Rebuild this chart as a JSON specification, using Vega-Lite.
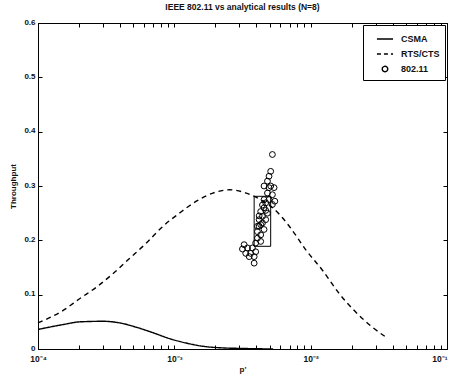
{
  "$schema": "https://vega.github.io/schema/vega-lite/v6.json",
  "autosize": {"type": "none"},
  "padding": {"left": 38, "top": 23, "right": 4, "bottom": 30},
  "width": 409,
  "height": 326,
  "background": "white",
  "title": {"text": "IEEE 802.11 vs analytical results (N=8)", "fontSize": 8.5, "fontWeight": "bold", "font": "Liberation Sans", "color": "#111", "offset": 7},
  "config": {
    "font": "Liberation Sans",
    "view": {"stroke": "black", "strokeWidth": 1},
    "axis": {"grid": false, "domainColor": "black", "tickColor": "black", "tickWidth": 1, "labelColor": "#111", "titleColor": "#111", "labelFontSize": 8, "labelFontWeight": "bold", "titleFontSize": 8, "titleFontWeight": "bold", "tickSize": -4, "labelPadding": 7}
  },
  "datasets": {
    "box": [{"p": 0.00385, "p2": 0.00509, "t": 0.189, "t2": 0.281}],
    "curves": [
      {"series": "CSMA", "p": 0.0001, "t": 0.036},
      {"series": "CSMA", "p": 0.000153, "t": 0.045},
      {"series": "CSMA", "p": 0.000203, "t": 0.050},
      {"series": "CSMA", "p": 0.0003, "t": 0.051},
      {"series": "CSMA", "p": 0.000398, "t": 0.048},
      {"series": "CSMA", "p": 0.000527, "t": 0.040},
      {"series": "CSMA", "p": 0.000697, "t": 0.030},
      {"series": "CSMA", "p": 0.000924, "t": 0.019},
      {"series": "CSMA", "p": 0.00122, "t": 0.011},
      {"series": "CSMA", "p": 0.00162, "t": 0.005},
      {"series": "CSMA", "p": 0.00227, "t": 0.002},
      {"series": "CSMA", "p": 0.0032, "t": 0.001},
      {"series": "CSMA", "p": 0.0053, "t": 0.0},
      {"series": "RTS/CTS", "p": 0.0001, "t": 0.048},
      {"series": "RTS/CTS", "p": 0.000153, "t": 0.071},
      {"series": "RTS/CTS", "p": 0.000203, "t": 0.093},
      {"series": "RTS/CTS", "p": 0.000269, "t": 0.114},
      {"series": "RTS/CTS", "p": 0.000356, "t": 0.139},
      {"series": "RTS/CTS", "p": 0.000471, "t": 0.167},
      {"series": "RTS/CTS", "p": 0.000624, "t": 0.195},
      {"series": "RTS/CTS", "p": 0.000826, "t": 0.226},
      {"series": "RTS/CTS", "p": 0.00109, "t": 0.250},
      {"series": "RTS/CTS", "p": 0.00145, "t": 0.272},
      {"series": "RTS/CTS", "p": 0.00192, "t": 0.287},
      {"series": "RTS/CTS", "p": 0.00254, "t": 0.293},
      {"series": "RTS/CTS", "p": 0.00336, "t": 0.287},
      {"series": "RTS/CTS", "p": 0.0042, "t": 0.276},
      {"series": "RTS/CTS", "p": 0.00526, "t": 0.260},
      {"series": "RTS/CTS", "p": 0.00697, "t": 0.226},
      {"series": "RTS/CTS", "p": 0.00924, "t": 0.182},
      {"series": "RTS/CTS", "p": 0.0122, "t": 0.145},
      {"series": "RTS/CTS", "p": 0.0162, "t": 0.102},
      {"series": "RTS/CTS", "p": 0.0214, "t": 0.068},
      {"series": "RTS/CTS", "p": 0.0284, "t": 0.040},
      {"series": "RTS/CTS", "p": 0.0356, "t": 0.022}
    ],
    "sim": [
      {"series": "802.11", "p": 0.00524, "t": 0.358},
      {"series": "802.11", "p": 0.00509, "t": 0.327},
      {"series": "802.11", "p": 0.00495, "t": 0.318},
      {"series": "802.11", "p": 0.00482, "t": 0.309},
      {"series": "802.11", "p": 0.00455, "t": 0.300},
      {"series": "802.11", "p": 0.00509, "t": 0.300},
      {"series": "802.11", "p": 0.00495, "t": 0.297},
      {"series": "802.11", "p": 0.00539, "t": 0.297},
      {"series": "802.11", "p": 0.00482, "t": 0.287},
      {"series": "802.11", "p": 0.00524, "t": 0.284},
      {"series": "802.11", "p": 0.00495, "t": 0.275},
      {"series": "802.11", "p": 0.00468, "t": 0.269},
      {"series": "802.11", "p": 0.00524, "t": 0.266},
      {"series": "802.11", "p": 0.00546, "t": 0.272},
      {"series": "802.11", "p": 0.00455, "t": 0.260},
      {"series": "802.11", "p": 0.0043, "t": 0.253},
      {"series": "802.11", "p": 0.00482, "t": 0.250},
      {"series": "802.11", "p": 0.00443, "t": 0.244},
      {"series": "802.11", "p": 0.00419, "t": 0.238},
      {"series": "802.11", "p": 0.00468, "t": 0.238},
      {"series": "802.11", "p": 0.00455, "t": 0.275},
      {"series": "802.11", "p": 0.00443, "t": 0.265},
      {"series": "802.11", "p": 0.00468, "t": 0.255},
      {"series": "802.11", "p": 0.00419, "t": 0.245},
      {"series": "802.11", "p": 0.00443, "t": 0.232},
      {"series": "802.11", "p": 0.00455, "t": 0.220},
      {"series": "802.11", "p": 0.0043, "t": 0.229},
      {"series": "802.11", "p": 0.00407, "t": 0.226},
      {"series": "802.11", "p": 0.00419, "t": 0.226},
      {"series": "802.11", "p": 0.00407, "t": 0.216},
      {"series": "802.11", "p": 0.0043, "t": 0.210},
      {"series": "802.11", "p": 0.00407, "t": 0.204},
      {"series": "802.11", "p": 0.0043, "t": 0.198},
      {"series": "802.11", "p": 0.00395, "t": 0.195},
      {"series": "802.11", "p": 0.00325, "t": 0.192},
      {"series": "802.11", "p": 0.00344, "t": 0.186},
      {"series": "802.11", "p": 0.00374, "t": 0.186},
      {"series": "802.11", "p": 0.00316, "t": 0.184},
      {"series": "802.11", "p": 0.00334, "t": 0.176},
      {"series": "802.11", "p": 0.00363, "t": 0.176},
      {"series": "802.11", "p": 0.00395, "t": 0.179},
      {"series": "802.11", "p": 0.00354, "t": 0.170},
      {"series": "802.11", "p": 0.00385, "t": 0.170},
      {"series": "802.11", "p": 0.00385, "t": 0.158}
    ]
  },
  "resolve": {"axis": {"x": "independent", "y": "independent"}},
  "layer": [
    {
      "data": {"name": "box"},
      "mark": {"type": "rect", "fillOpacity": 0, "stroke": "black", "strokeWidth": 1},
      "encoding": {
        "x": {"field": "p", "type": "quantitative", "scale": {"type": "log", "domain": [0.0001, 0.1], "nice": false},
          "axis": {"orient": "top", "labels": false, "title": null, "domain": false, "values": [0.0001,0.0002,0.0003,0.0004,0.0005,0.0006,0.0007,0.0008,0.0009,0.001,0.002,0.003,0.004,0.005,0.006,0.007,0.008,0.009,0.01,0.02,0.03,0.04,0.05,0.06,0.07,0.08,0.09,0.1]}},
        "x2": {"field": "p2"},
        "y": {"field": "t", "type": "quantitative", "scale": {"domain": [0, 0.6], "nice": false},
          "axis": {"orient": "right", "labels": false, "title": null, "domain": false, "values": [0, 0.1, 0.2, 0.3, 0.4, 0.5, 0.6]}},
        "y2": {"field": "t2"}
      }
    },
    {
      "data": {"name": "curves"},
      "mark": {"type": "line", "strokeWidth": 1.4, "interpolate": "monotone"},
      "encoding": {
        "x": {"field": "p", "type": "quantitative",
          "axis": {"orient": "bottom", "title": "p'", "titlePadding": 3, "labelFlush": false, "labelPadding": 9, "labelFontSize": 8.5,
            "labelAlign": {"condition": {"test": "datum.value >= 0.099", "value": "right"}, "value": "center"},
            "values": [0.0001,0.0002,0.0003,0.0004,0.0005,0.0006,0.0007,0.0008,0.0009,0.001,0.002,0.003,0.004,0.005,0.006,0.007,0.008,0.009,0.01,0.02,0.03,0.04,0.05,0.06,0.07,0.08,0.09,0.1],
            "labelExpr": "datum.value == 0.0001 ? '10⁻⁴' : datum.value == 0.001 ? '10⁻³' : datum.value == 0.01 ? '10⁻²' : datum.value == 0.1 ? '10⁻¹' : ''"}},
        "y": {"field": "t", "type": "quantitative",
          "axis": {"orient": "left", "title": "Throughput", "titlePadding": 6, "format": "~g", "labelBaseline": "bottom", "labelOffset": 3, "values": [0, 0.1, 0.2, 0.3, 0.4, 0.5, 0.6]}},
        "color": {"field": "series", "type": "nominal",
          "scale": {"domain": ["CSMA", "RTS/CTS", "802.11"], "range": ["black", "black", "black"]},
          "legend": {"title": null, "orient": "top-right", "offset": 2, "strokeColor": "black", "fillColor": "white", "padding": 5, "rowPadding": 1, "labelOffset": 7, "symbolOffset": 8, "labelFontSize": 9, "labelFontWeight": "bold", "labelColor": "#111", "symbolStrokeWidth": 1.4,
            "encode": {"symbols": {"update": {
              "shape": {"signal": "datum.value === '802.11' ? 'circle' : 'stroke'"},
              "size": {"signal": "datum.value === '802.11' ? 30 : 260"},
              "strokeDash": {"signal": "datum.value === 'RTS/CTS' ? [4, 3] : [1, 0]"},
              "fill": {"value": "transparent"},
              "stroke": {"value": "black"}
            }}}}},
        "strokeDash": {"field": "series", "type": "nominal",
          "scale": {"domain": ["CSMA", "RTS/CTS"], "range": [[1, 0], [5, 4]]}, "legend": null}
      }
    },
    {
      "data": {"name": "sim"},
      "mark": {"type": "point", "shape": "circle", "filled": false, "size": 34, "strokeWidth": 1, "opacity": 1},
      "encoding": {
        "x": {"field": "p", "type": "quantitative", "axis": null},
        "y": {"field": "t", "type": "quantitative", "axis": null},
        "color": {"field": "series", "type": "nominal"}
      }
    }
  ]
}
